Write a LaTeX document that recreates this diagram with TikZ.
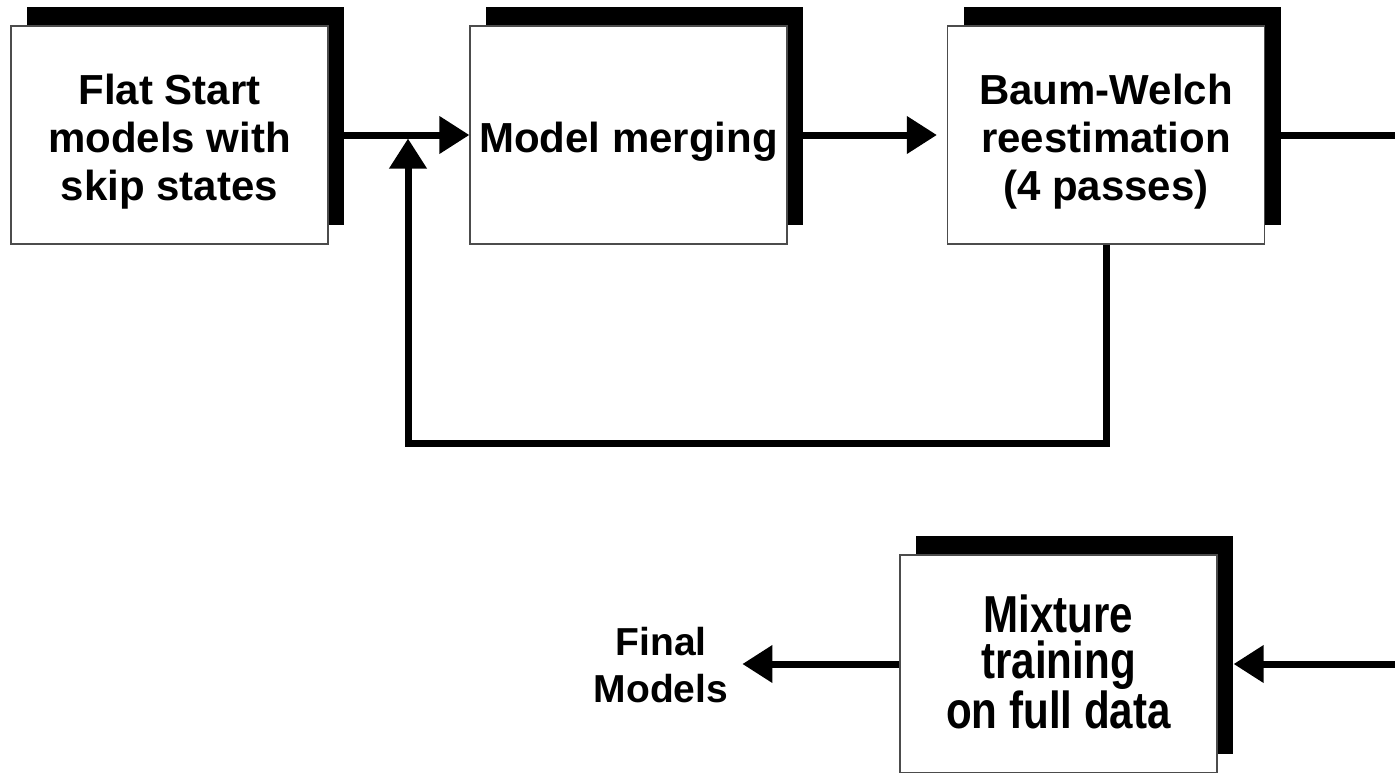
\documentclass[tikz,border=0pt]{standalone}
\usepackage{fontspec}
\setmainfont{Liberation Sans}
\newfontfamily\tallfont{Liberation Sans}[FakeStretch=0.81]
\usetikzlibrary{arrows.meta,shadows}

\begin{document}
\begin{tikzpicture}[x=1pt,y=-1pt]
	\tikzset{stage/.style={draw=black!70,line width=1.2pt,fill=white,minimum width=317pt,minimum height=218pt,
			align=center,inner sep=0pt,text height=139pt,text depth=9pt,font=\fontsize{42}{48}\selectfont\bfseries,
			drop shadow={shadow xshift=16pt,shadow yshift=19pt,fill=black,draw=none,opacity=1}},
		flow/.style={line width=7pt,-{Triangle[length=30pt,width=36pt]}}}
	\useasboundingbox (0,0) rectangle (1395,772);
	% the four training stages
	\node[stage] (flat) at (169.5,135) {Flat Start\\models with\\skip states};
	\node[stage,text height=40pt,text depth=6pt] (merge) at (628.5,135) {Model merging};
	\node[stage] (bw) at (1106,135) {Baum-Welch\\reestimation\\(4 passes)};
	\node[stage,text height=130pt,text depth=2pt,font=\tallfont\fontsize{52}{46}\selectfont\bfseries] (mix) at (1058.5,664) {Mixture\\training\\on full data};
	\node[align=center,inner xsep=14pt,font=\fontsize{39}{47}\selectfont\bfseries] (final) at (661,665) {Final\\Models};
	\coordinate (join) at (408,135);
	% connections
	\draw[flow] (flat.east) -- (merge.west);
	\draw[flow,shorten >=10pt] (merge.east) -- (bw.west);
	\draw[flow,shorten >=3.5pt] (bw.south) -- ++(0,199) -| (join);
	\draw[flow] (bw.east) -- ++(160,0) |- ([xshift=16pt]mix.east);
	\draw[flow] (mix.west) -- (mix.west -| final.east);
\end{tikzpicture}
\end{document}
